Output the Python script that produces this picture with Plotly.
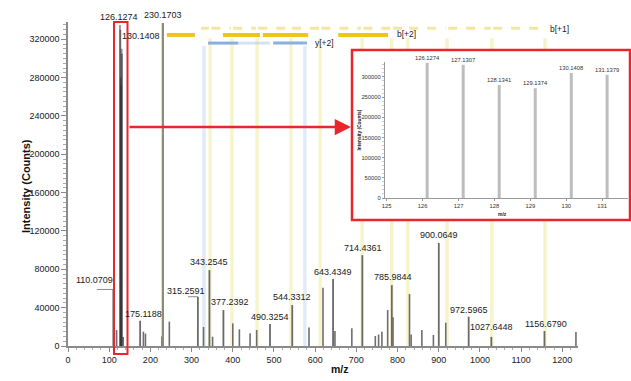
import plotly.graph_objects as go

# ---------------- data ----------------
# TMT reporter ions (zoomed panel)
reporter_mz = [126.1274, 127.1307, 128.1341, 129.1374, 130.1408, 131.1379]
reporter_int = [335000, 330000, 280000, 272000, 310000, 305000]

# labelled fragment peaks in the full MS/MS spectrum
labeled_mz = [110.0709, 175.1188, 230.1703, 315.2591, 343.2545, 377.2392, 490.3254,
              544.3312, 643.4349, 714.4361, 785.9844, 900.0649, 972.5965, 1027.6448,
              1156.6790]
labeled_int = [59000, 26400, 337000, 51400, 79200, 37500, 22900,
               42700, 69800, 94800, 63500, 107600, 30600, 9500,
               15600]
label_dx = [-19, 3, 0, -12, 0, 7, 0, 0, 0, 1, 1, 0, 0, 0, 1]
label_dy = [9, 7, 8, 6, 8, 8, 7, 8, 7, 7, 8, 8, 7, 10, 7]

# unlabelled peaks
other_mz = [118, 134, 183, 188, 228, 246, 329, 351, 400, 416, 442, 458, 585, 619,
            648, 689, 746, 754, 762, 776, 789, 829, 833, 859, 887, 917, 1233]
other_int = [16700, 9400, 15000, 13000, 10000, 25400, 19800, 9700, 23600, 17400,
             13200, 16700, 19400, 60800, 15600, 18400, 10400, 12000, 14900, 37500,
             30000, 54200, 12000, 16700, 11500, 24300, 14500]

# matched fragment-ion positions (b ladder in yellow, y ladder in blue)
b_ion_mz = [345, 398, 459, 541, 612, 714, 786, 825, 920, 1029, 1158]
y_ion_mz = [330, 575]

# ion ladder coverage bars along the top
b1_edges = [320, 345, 398, 459, 541, 612, 714, 786, 825, 920, 1029, 1158]
b2_segments = [(240, 308), (376, 466), (473, 583), (656, 777)]
y2_segments = [(340, 413), (498, 580)]
y2_faint = [(413, 490)]

main_yticks = [0, 40000, 80000, 120000, 160000, 200000, 240000, 280000, 320000]
main_xticks = [0, 100, 200, 300, 400, 500, 600, 700, 800, 900, 1000, 1100, 1200]
inset_yticks = [0, 50000, 100000, 150000, 200000, 250000, 300000]
inset_xticks = [125, 126, 127, 128, 129, 130, 131]

# ---------------- geometry helpers (pixel -> paper) ----------------
W, H = 631, 381
ML, MR, MT, MB = 68, 1, 0, 35
PW, PH = W - ML - MR, H - MT - MB


def fx(px):
    return (px - ML) / PW


def fy(py):
    return (H - MB - py) / PH


FONT = "Liberation Sans, Arial, sans-serif"
RED = "#e8262c"


def sticks(xs, ys):
    X, Y = [], []
    for x, y in zip(xs, ys):
        X += [x, x, None]
        Y += [0, y, None]
    return X, Y


def segs(pairs, y):
    X, Y = [], []
    for a, b in pairs:
        X += [a, b, None]
        Y += [y, y, None]
    return X, Y


fig = go.Figure()

# fragment-ion guide lines
bx, by = sticks(b_ion_mz, [321000] * len(b_ion_mz))
fig.add_trace(go.Scatter(x=bx, y=by, mode="lines",
                         line=dict(color="rgba(240,234,160,0.55)", width=3.5),
                         hoverinfo="skip", xaxis="x", yaxis="y"))
yx, yy = sticks(y_ion_mz, [313000] * len(y_ion_mz))
fig.add_trace(go.Scatter(x=yx, y=yy, mode="lines",
                         line=dict(color="rgba(200,218,240,0.55)", width=3.5),
                         hoverinfo="skip", xaxis="x", yaxis="y"))

# ladder bars
b1_pairs = [(a + 3, b - 3) for a, b in zip(b1_edges[:-1], b1_edges[1:])]
sx, sy = segs(b1_pairs, 331500)
fig.add_trace(go.Scatter(x=sx, y=sy, mode="lines",
                         line=dict(color="rgba(238,208,80,0.55)", width=3, dash="dash"),
                         hoverinfo="skip", xaxis="x", yaxis="y"))
sx, sy = segs(b2_segments, 324500)
fig.add_trace(go.Scatter(x=sx, y=sy, mode="lines",
                         line=dict(color="#f0c419", width=4),
                         hoverinfo="skip", xaxis="x", yaxis="y"))
sx, sy = segs(y2_faint, 316000)
fig.add_trace(go.Scatter(x=sx, y=sy, mode="lines",
                         line=dict(color="rgba(160,190,230,0.45)", width=3),
                         hoverinfo="skip", xaxis="x", yaxis="y"))
sx, sy = segs(y2_segments, 316000)
fig.add_trace(go.Scatter(x=sx, y=sy, mode="lines",
                         line=dict(color="#8ab0e0", width=3),
                         hoverinfo="skip", xaxis="x", yaxis="y"))

# spectrum sticks
ox, oy = sticks(other_mz, other_int)
fig.add_trace(go.Scatter(x=ox, y=oy, mode="lines", line=dict(color="#6e6e6e", width=1.6),
                         hoverinfo="skip", xaxis="x", yaxis="y"))
lx, ly = sticks(labeled_mz, labeled_int)
fig.add_trace(go.Scatter(x=lx, y=ly, mode="lines", line=dict(color="#6a6a6a", width=1.8),
                         hoverinfo="skip", xaxis="x", yaxis="y"))
# 230 ion sits on a guide line
fig.add_trace(go.Scatter(x=[labeled_mz[2], labeled_mz[2]], y=[0, labeled_int[2]], mode="lines",
                         line=dict(color="#8c8c72", width=2),
                         hoverinfo="skip", xaxis="x", yaxis="y"))
rx, ry = sticks(reporter_mz, reporter_int)
fig.add_trace(go.Scatter(x=rx, y=ry, mode="lines",
                         line=dict(color="rgba(40,40,40,0.5)", width=1.8),
                         hoverinfo="skip", xaxis="x", yaxis="y"))

# leader lines for offset labels
for i, span in [(0, 40), (3, 24)]:
    fig.add_trace(go.Scatter(x=[labeled_mz[i] - span, labeled_mz[i]],
                             y=[labeled_int[i], labeled_int[i]], mode="lines",
                             line=dict(color="#8a8a8a", width=1),
                             hoverinfo="skip", xaxis="x", yaxis="y"))

# white panel behind the zoomed view
fig.add_trace(go.Scatter(x=[0, 1, 1, 0, 0], y=[0, 0, 1, 1, 0], mode="lines", fill="toself",
                         fillcolor="white", line=dict(width=0),
                         hoverinfo="skip", xaxis="x2", yaxis="y2"))

# zoomed reporter-ion view
zx, zy = sticks(reporter_mz, reporter_int)
fig.add_trace(go.Scatter(x=zx, y=zy, mode="lines", line=dict(color="#bdbdbd", width=3),
                         hoverinfo="skip", xaxis="x3", yaxis="y3"))

LABEL_FONT = dict(family=FONT, size=9, color="#1a1a1a")
annotations = []
for m, v, dx, dy in zip(labeled_mz, labeled_int, label_dx, label_dy):
    annotations.append(dict(x=m, y=v, xref="x", yref="y", text=f"{m:.4f}", showarrow=False,
                            xshift=dx, yshift=dy, font=LABEL_FONT))
# main-panel reporter labels
annotations.append(dict(x=reporter_mz[0], y=reporter_int[0], xref="x", yref="y",
                        text=f"{reporter_mz[0]:.4f}", showarrow=False, xshift=-1, yshift=8,
                        font=LABEL_FONT))
annotations.append(dict(x=reporter_mz[4], y=reporter_int[4], xref="x", yref="y",
                        text=f"{reporter_mz[4]:.4f}", showarrow=False, xshift=19, yshift=13,
                        font=LABEL_FONT))
# ladder labels
for txt, xm, yv in [("y[+2]", 622, 316000), ("b[+2]", 821, 325000), ("b[+1]", 1192, 331000)]:
    annotations.append(dict(x=xm, y=yv, xref="x", yref="y", text=txt, showarrow=False,
                            font=dict(family=FONT, size=8.5, color="#1a1a1a")))
# zoomed-view labels
for m, v in zip(reporter_mz, reporter_int):
    annotations.append(dict(x=m, y=v, xref="x3", yref="y3", text=f"{m:.4f}", showarrow=False,
                            yshift=5, font=dict(family=FONT, size=5.8, color="#333")))
# axis titles
annotations += [
    dict(x=fx(18), y=fy(186), xref="paper", yref="paper", text="<b>Intensity (Counts)</b>",
         textangle=-90, showarrow=False, font=dict(family=FONT, size=11, color="#111")),
    dict(x=fx(340), y=fy(376.5), xref="paper", yref="paper", text="<b>m/z</b>",
         showarrow=False, font=dict(family=FONT, size=10.5, color="#111")),
    dict(x=fx(358.5), y=fy(130), xref="paper", yref="paper", text="<b>Intensity (Counts)</b>",
         textangle=-90, showarrow=False, font=dict(family=FONT, size=4.8, color="#222")),
    dict(x=fx(509), y=fy(214), xref="paper", yref="paper", text="<b>m/z</b>",
         showarrow=False, font=dict(family=FONT, size=5, color="#222")),
    # arrow pointing to the zoomed view
    dict(x=fx(351), y=fy(127), xref="paper", yref="paper", text="", showarrow=True,
         ax=-(351 - 128), ay=0, axref="pixel", ayref="pixel",
         arrowhead=2, arrowsize=1.3, arrowwidth=2.5, arrowcolor=RED),
]

shapes = [
    dict(type="rect", xref="paper", yref="paper", x0=fx(114), x1=fx(127.5), y0=fy(354),
         y1=fy(22), line=dict(color=RED, width=2), fillcolor="rgba(0,0,0,0)"),
    dict(type="rect", xref="paper", yref="paper", x0=fx(352), x1=fx(630), y0=fy(220),
         y1=fy(50), line=dict(color=RED, width=2.5), fillcolor="rgba(0,0,0,0)"),
]

axis_font = dict(family=FONT, size=9, color="#1a1a1a")
inset_font = dict(family=FONT, size=5.8, color="#333")

fig.update_layout(
    width=W, height=H,
    margin=dict(l=ML, r=MR, t=MT, b=MB),
    paper_bgcolor="white", plot_bgcolor="rgba(0,0,0,0)",
    showlegend=False,
    annotations=annotations, shapes=shapes,
    xaxis=dict(domain=[0, fx(578)], range=[0, 1238], tickvals=main_xticks,
               showgrid=False, zeroline=False, showline=True, linecolor="#8a8a8a",
               linewidth=1.5, ticks="outside", ticklen=4, tickcolor="#8a8a8a",
               minor=dict(dtick=20, ticks="outside", ticklen=2, tickcolor="#aaaaaa"),
               tickfont=axis_font, anchor="y"),
    yaxis=dict(domain=[0, fy(22)], range=[0, 338000], tickvals=main_yticks,
               ticktext=[str(v) for v in main_yticks],
               showgrid=False, zeroline=False, showline=True, linecolor="#8a8a8a",
               linewidth=1.5, ticks="outside", ticklen=5, tickcolor="#8a8a8a",
               minor=dict(dtick=5000, ticks="outside", ticklen=3, tickcolor="#aaaaaa"),
               tickfont=axis_font, anchor="x"),
    xaxis2=dict(domain=[fx(352), fx(630)], range=[0, 1], visible=False, anchor="y2",
                fixedrange=True),
    yaxis2=dict(domain=[fy(220), fy(50)], range=[0, 1], visible=False, anchor="x2",
                fixedrange=True),
    xaxis3=dict(domain=[fx(385), fx(628)], range=[124.953, 131.72], tickvals=inset_xticks,
                showgrid=False, zeroline=False, showline=True, linecolor="#9a9a9a",
                linewidth=1.2, ticks="outside", ticklen=2, tickcolor="#9a9a9a",
                tickfont=inset_font, anchor="y3"),
    yaxis3=dict(domain=[fy(198), fy(62)], range=[0, 337000], tickvals=inset_yticks,
                ticktext=[str(v) for v in inset_yticks],
                showgrid=False, zeroline=False, showline=True, linecolor="#9a9a9a",
                linewidth=1.2, ticks="outside", ticklen=2, tickcolor="#9a9a9a",
                minor=dict(dtick=10000, ticks="outside", ticklen=1.5, tickcolor="#cccccc"),
                tickfont=inset_font, anchor="x3"),
)

fig.write_html("out.html")
